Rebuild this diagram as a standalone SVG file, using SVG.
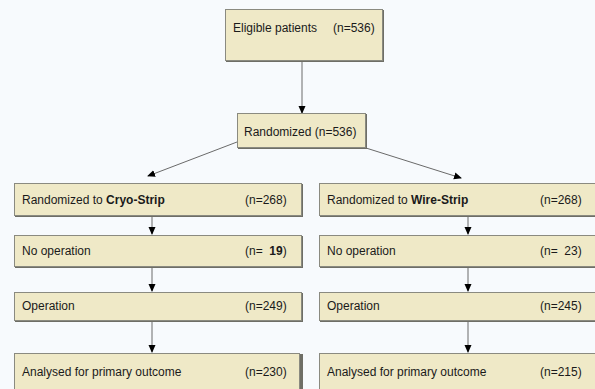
<svg xmlns="http://www.w3.org/2000/svg" width="595" height="389" viewBox="0 0 595 389">
<style>
.box{fill:#efe9c7;stroke:#8a8a80;stroke-width:1}
.sh{fill:#6e6e66}
text{font-family:"Liberation Sans",Arial,sans-serif;font-size:12px;fill:#1a1a1a}
.b{font-weight:bold}
.ln{stroke:#6a6a6a;stroke-width:1;fill:none}
</style>
<defs>
<marker id="ah" markerWidth="8" markerHeight="8" refX="7" refY="4" orient="auto" markerUnits="userSpaceOnUse">
<path d="M0,0.5 L8,4 L0,7.5 Z" fill="#000"/>
</marker>
</defs>
<rect width="595" height="389" fill="#f7fafd"/>
<g id="connectors">
<line class="ln" x1="302" y1="62" x2="302" y2="113" marker-end="url(#ah)"/>
<line class="ln" x1="237" y1="142" x2="148" y2="176" marker-end="url(#ah)"/>
<line class="ln" x1="366" y1="148" x2="461" y2="178" marker-end="url(#ah)"/>
<line class="ln" x1="152" y1="217" x2="152" y2="234" marker-end="url(#ah)"/>
<line class="ln" x1="152" y1="268" x2="152" y2="291" marker-end="url(#ah)"/>
<line class="ln" x1="152" y1="322" x2="152" y2="352" marker-end="url(#ah)"/>
<line class="ln" x1="468" y1="217" x2="468" y2="234" marker-end="url(#ah)"/>
<line class="ln" x1="468" y1="268" x2="468" y2="291" marker-end="url(#ah)"/>
<line class="ln" x1="468" y1="322" x2="468" y2="352" marker-end="url(#ah)"/>
</g>
<g id="eligible">
<rect class="sh" x="226" y="10" width="158" height="52"/>
<rect class="box" x="225.5" y="9.5" width="157" height="51"/>
<text x="233" y="32">Eligible patients</text>
<text x="333" y="32">(n=536)</text>
</g>
<g id="randomized">
<rect class="sh" x="238" y="114" width="129" height="35"/>
<rect class="box" x="237.5" y="113.5" width="128" height="34"/>
<text x="244" y="136">Randomized (n=536)</text>
</g>
<g id="l1">
<rect class="sh" x="15" y="184" width="288" height="33"/>
<rect class="box" x="14.5" y="183.5" width="287" height="32"/>
<text x="22" y="204">Randomized to <tspan class="b">Cryo-Strip</tspan></text>
<text x="245" y="204">(n=268)</text>
</g>
<g id="l2">
<rect class="sh" x="15" y="236" width="288" height="32"/>
<rect class="box" x="14.5" y="235.5" width="287" height="31"/>
<text x="22" y="255">No operation</text>
<text x="245" y="255">(n=&#160; <tspan class="b">19</tspan>)</text>
</g>
<g id="l3">
<rect class="sh" x="15" y="293" width="288" height="29"/>
<rect class="box" x="14.5" y="292.5" width="287" height="28"/>
<text x="22" y="310">Operation</text>
<text x="245" y="310">(n=249)</text>
</g>
<g id="l4">
<rect class="sh" x="15" y="354" width="288" height="40"/>
<rect class="box" x="14.5" y="353.5" width="285" height="40"/>
<text x="22" y="376">Analysed for primary outcome</text>
<text x="245" y="376">(n=230)</text>
</g>
<g id="r1">
<rect class="sh" x="320" y="184" width="280" height="33"/>
<rect class="box" x="319.5" y="183.5" width="280" height="32"/>
<text x="327" y="204">Randomized to <tspan class="b">Wire-Strip</tspan></text>
<text x="540" y="204">(n=268)</text>
</g>
<g id="r2">
<rect class="sh" x="320" y="236" width="280" height="32"/>
<rect class="box" x="319.5" y="235.5" width="280" height="31"/>
<text x="327" y="255">No operation</text>
<text x="540" y="255">(n=&#160; 23)</text>
</g>
<g id="r3">
<rect class="sh" x="320" y="293" width="280" height="29"/>
<rect class="box" x="319.5" y="292.5" width="280" height="28"/>
<text x="327" y="310">Operation</text>
<text x="540" y="310">(n=245)</text>
</g>
<g id="r4">
<rect class="sh" x="320" y="354" width="280" height="40"/>
<rect class="box" x="319.5" y="353.5" width="280" height="40"/>
<text x="327" y="376">Analysed for primary outcome</text>
<text x="540" y="376">(n=215)</text>
</g>
</svg>
